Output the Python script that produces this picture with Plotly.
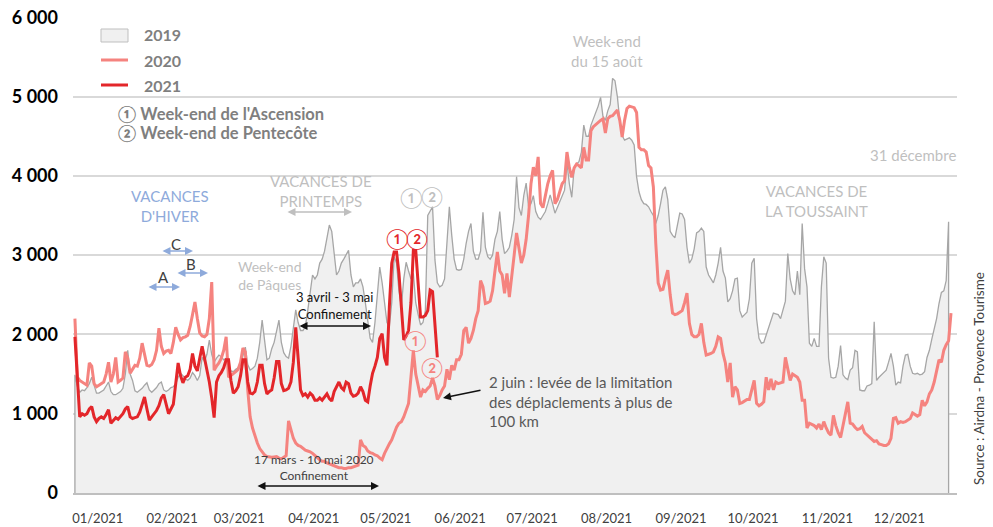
import plotly.graph_objects as go

# x axis: day of year, labels are months of 2021
month_labels = ["01/2021", "02/2021", "03/2021", "04/2021", "05/2021", "06/2021",
                "07/2021", "08/2021", "09/2021", "10/2021", "11/2021", "12/2021"]
month_start = [0, 31, 59, 90, 120, 151, 181, 212, 243, 273, 304, 334]

# daily values, grouped by month
v2019 = [
    1490, 1350, 1270, 1300, 1290, 1330, 1380, 1460, 1350, 1260, 1260, 1280, 1300, 1350, 1400, 1280,
    1240, 1240, 1260, 1280, 1320, 1500, 1800, 1500, 1420, 1290, 1270, 1290, 1320, 1360, 1390,
    1300, 1270, 1300, 1330, 1380, 1400, 1300, 1280, 1300, 1330, 1340, 1380, 1460, 1510, 1480, 1440,
    1420, 1450, 1520, 1480, 1420, 1480, 1710, 1660, 1750, 1930, 1750, 1650,
    1700, 1740, 1720, 1680, 1700, 1560, 1540, 1530, 1560, 1580, 1620, 1720, 1840, 1620, 1550, 1570,
    1600, 1700, 1900, 2180, 1900, 1680, 1700, 1820, 1900, 2050, 2180, 1900, 1770, 1720, 1700,
    1850, 2050, 2310, 2150, 2050, 2050, 2100, 2300, 2550, 2750, 2700, 2750, 2900, 2950, 3050, 3200,
    3380, 3300, 3000, 2750, 2800, 2900, 2950, 3000, 3060, 2750, 2600, 2650, 2650, 2700,
    2600, 2400, 2200, 1950, 1900, 2150, 2500, 2850, 2650, 2400, 2150, 2100, 2400, 2980, 2900, 2550,
    2350, 2700, 2910, 2800, 2700, 2770, 2400, 2250, 2120, 2150, 2300, 3500, 3550, 3610, 2940,
    2650, 2600, 2620, 2700, 3200, 3610, 3250, 2950, 2820, 2810, 2820, 2950, 3150, 3300, 3400, 3050,
    2950, 2950, 3050, 3540, 3100, 2980, 2950, 3000, 3200, 3300, 3550, 3200, 3020, 3050,
    3100, 3250, 3450, 3990, 3600, 3500, 3750, 3910, 3610, 3650, 3750, 3550, 3480, 3450, 3500, 3550,
    3650, 3760, 3650, 3530, 3600, 3680, 3750, 3820, 4160, 3900, 3730, 4100, 4150, 4180, 4300,
    4640, 4500, 4500, 4640, 4720, 4800, 4880, 4990, 4750, 4700, 4820, 4900, 5230, 5200, 5000, 4700,
    4510, 4450, 4470, 4480, 4450, 4390, 3990, 3800, 3700, 3650, 3640, 3610, 3550, 3500, 3400,
    3500, 3650, 3820, 3860, 3700, 3300, 3250, 3220, 3400, 3530, 3520, 3450, 3100, 2900, 2950, 3080,
    3280, 3300, 3340, 3300, 2850, 2750, 2700, 2650, 2750, 2900, 3100, 2800, 2710, 2410,
    2450, 2550, 2700, 2710, 2300, 2220, 2250, 2280, 2450, 2900, 2960, 2200, 1950, 1890, 1900, 2000,
    2090, 2200, 2270, 2260, 2250, 2200, 2300, 2420, 3020, 2700, 2550, 2500, 2800, 2500, 3400,
    2830, 2600, 1890, 1850, 1950, 1850, 1850, 2600, 2980, 2900, 1700, 1460, 1450, 1460, 1600, 1860,
    1490, 1450, 1430, 1550, 1580, 1800, 1780, 1300, 1290, 1290, 1350, 1360, 1380, 2160,
    1420, 1460, 1490, 1520, 1550, 1650, 1760, 1600, 1360, 1400, 1390, 1600, 1740, 1750, 1600, 1510,
    1500, 1510, 1490, 1500, 1530, 1710, 1800, 1940, 2080, 2200, 2390, 2530, 2550, 2680, 3420,
]

v2020 = [
    2200, 1460, 1420, 1400, 1380, 1360, 1640, 1600, 1380, 1340, 1360, 1380, 1400, 1500, 1650, 1400,
    1500, 1710, 1400, 1420, 1450, 1780, 1700, 1510, 1560, 1610, 1600, 1700, 1890, 1750, 1610,
    1600, 1620, 1680, 1800, 2080, 1850, 1760, 1790, 1800, 1760, 1900, 2090, 2000, 1930, 1960, 1970,
    1990, 2100, 2250, 2410, 2200, 2020, 1980, 1970, 2000, 2200, 2660, 1550,
    1600, 1640, 1700, 1800, 1970, 1460, 1480, 1500, 1530, 1560, 1650, 1830, 1780, 1300, 960, 820,
    710, 630, 560, 520, 480, 460, 455, 450, 455, 460, 440, 430, 450, 470, 910,
    780, 690, 630, 600, 590, 560, 540, 530, 520, 500, 470, 450, 420, 400, 400, 380,
    370, 360, 350, 330, 320, 320, 310, 310, 320, 320, 330, 340, 350, 670,
    600, 580, 530, 510, 500, 480, 470, 440, 420, 500, 570, 620, 670, 760, 830, 880,
    900, 960, 1050, 1130, 1460, 1800, 1500, 1340, 1210, 1300, 1280, 1320, 1350, 1450, 1350,
    1180, 1230, 1300, 1350, 1560, 1430, 1610, 1550, 1680, 1680, 1750, 2050, 2090, 1890, 1950, 2050,
    2200, 2300, 2680, 2600, 2390, 2400, 2420, 2550, 2800, 3040, 2800, 2750, 2520, 2770,
    2470, 2700, 3000, 3280, 3100, 2900, 3000, 3200, 3500, 3900, 4110, 4000, 4240, 3650, 3600, 3750,
    3900, 4000, 4070, 3650, 3700, 3800, 3900, 3940, 4300, 4100, 3980, 4100, 4150, 4130, 4100,
    4360, 4200, 4200, 4570, 4620, 4650, 4680, 4700, 4720, 4540, 4720, 4750, 4760, 4800, 4830, 4700,
    4490, 4700, 4850, 4880, 4870, 4860, 4800, 4360, 4330, 4330, 4300, 4130, 4100, 3860, 3150,
    2650, 2560, 2570, 2700, 2810, 2500, 2270, 2250, 2260, 2280, 2300, 2400, 2520, 2140, 2000, 1970,
    1970, 2000, 2140, 1900, 1740, 1750, 1760, 1780, 1850, 1970, 1950, 1760, 1640, 1400,
    1640, 1210, 1340, 1300, 1130, 1140, 1160, 1180, 1180, 1300, 1420, 1130, 1100, 1120, 1150, 1460,
    1300, 1440, 1300, 1400, 1380, 1390, 1400, 1710, 1560, 1420, 1500, 1480, 1460, 1400, 1170,
    1170, 820, 880, 870, 850, 820, 870, 800, 900, 820, 760, 730, 980, 850, 760, 700,
    850, 1000, 1150, 880, 870, 830, 800, 810, 840, 760, 730, 700, 680, 650,
    660, 620, 610, 600, 600, 620, 690, 940, 950, 880, 900, 890, 900, 920, 940, 1010,
    990, 970, 990, 1170, 1100, 1150, 1250, 1300, 1400, 1560, 1680, 1650, 1800, 1870, 1920, 2270,
]

v2021 = [
    1970, 1400, 960, 1000, 980, 1000, 1060, 1090, 960, 900, 940, 960, 940, 990, 1050, 880,
    920, 950, 930, 960, 1000, 1060, 1090, 960, 940, 950, 960, 1020, 1120, 1210, 1060,
    920, 960, 1000, 1040, 1100, 1200, 1240, 1100, 1000, 1060, 1120, 1380, 1640, 1480, 1390, 1460,
    1480, 1560, 1760, 1600, 1540, 1700, 1850, 1700, 1550, 1400, 1200, 950,
    1400, 1480, 1520, 1580, 1680, 1680, 1420, 1260, 1290, 1340, 1480, 1680, 1680, 1400, 1260, 1250,
    1280, 1400, 1610, 1610, 1380, 1250, 1280, 1300, 1450, 1660, 1660, 1380, 1290, 1300, 1320,
    1400, 1650, 2090, 1700, 1300, 1230, 1250, 1210, 1260, 1230, 1170, 1170, 1200, 1170, 1210, 1250,
    1190, 1160, 1280, 1350, 1400, 1330, 1300, 1400, 1380, 1260, 1220, 1230, 1260, 1340,
    1280, 1170, 1150, 1350, 1510, 1600, 1710, 1950, 2010, 1710, 1610, 2350, 2900, 3040, 3040, 2770,
    2300, 1930, 1980, 2050, 2400, 3060, 3060, 2640, 2220, 2220, 2240, 2300, 2560, 2540, 2180,
    1710,
]

series_names = ["2019", "2020", "2021"]

GREY = "#bfbfbf"
BLUE = "#8eaadb"
RED = "#e3262a"
SALMON = "#f5837f"

d19 = list(range(len(v2019)))
d20 = list(range(len(v2020)))
d21 = list(range(len(v2021)))

fig = go.Figure()
# 2019 as a closed grey area
fig.add_trace(go.Scatter(x=[d19[0]] + d19 + [d19[-1]], y=[0] + v2019 + [0],
                         mode="lines", fill="toself", fillcolor="#f0f0f0",
                         line=dict(color="#a6a6a6", width=1.3), name=series_names[0]))
fig.add_trace(go.Scatter(x=d20, y=v2020, mode="lines",
                         line=dict(color=SALMON, width=3), name=series_names[1]))
fig.add_trace(go.Scatter(x=d21, y=v2021, mode="lines",
                         line=dict(color=RED, width=3), name=series_names[2]))

# plot area as seen on screen: x 73..957, y 17..493
# the page body adds an 8px margin around the figure
L, R, T, B = 73, 957, 17, 493
PAGE = 8


def px(x, y):
    return (x - L) / (R - L), (B - y) / (B - T)


def label(x, y, text, size=15, color=GREY, anchor="center", bold=False, angle=0):
    xx, yy = px(x, y)
    fig.add_annotation(x=xx, y=yy, xref="paper", yref="paper", text=text, showarrow=False,
                       xanchor=anchor, yanchor="middle", align=anchor if anchor != "center" else "center",
                       textangle=angle,
                       font=dict(size=size, color=color, weight="bold" if bold else "normal"))


def darrow(x0, x1, y, color):
    xx, yy = px(x1, y)
    fig.add_annotation(x=xx, y=yy, xref="paper", yref="paper", text="", showarrow=True,
                       ax=x0 - x1, ay=0, arrowhead=2, arrowsize=1, arrowwidth=1.6,
                       arrowcolor=color, arrowside="end+start", standoff=0, startstandoff=0)


# legend drawn by hand (box for the 2019 area, strokes for the lines)
x0, y0 = px(101, 29)
x1, y1 = px(128, 42)
fig.add_shape(type="rect", xref="paper", yref="paper", x0=x0, x1=x1, y0=y0, y1=y1,
              fillcolor="#f0f0f0", line=dict(color=GREY, width=1))
for ypix, col in [(60, SALMON), (85, RED)]:
    a, b = px(101, ypix)
    c, _ = px(128, ypix)
    fig.add_shape(type="line", xref="paper", yref="paper", x0=a, x1=c, y0=b, y1=b,
                  line=dict(color=col, width=3))
for ypix, name in zip([35, 60, 85], series_names):
    label(142, ypix, name, size=16, color="#7f7f7f", anchor="left", bold=True)

label(116, 114, "① Week-end de l'Ascension", size=16.5, color="#7f7f7f", anchor="left", bold=True)
label(116, 133, "② Week-end de Pentecôte", size=16.5, color="#7f7f7f", anchor="left", bold=True)

label(170, 206, "VACANCES<br>D'HIVER", size=15, color=BLUE)
darrow(161, 193, 251, BLUE)
darrow(176, 208, 273, BLUE)
darrow(147, 180, 287, BLUE)
label(176, 244, "C", size=15, color="#404040")
label(191, 264, "B", size=15, color="#404040")
label(163, 277, "A", size=15, color="#404040")

label(321, 191, "VACANCES DE<br>PRINTEMPS", size=15)
darrow(286, 352, 212, GREY)
label(270, 275, "Week-end<br>de Pâques", size=14)

label(334, 305, "3 avril - 3 mai<br>Confinement", size=13, color="#111111")
darrow(298, 371, 326, "#111111")

label(314, 467, "17 mars - 10 mai 2020<br>Confinement", size=12, color="#404040")
darrow(256, 379, 486, "#111111")

label(487, 401, "2 juin : levée de la limitation<br>des déplaclements à plus de<br>100 km",
      size=15, color="#595959", anchor="left")
hx, hy = px(443, 398)
fig.add_annotation(x=hx, y=hy, xref="paper", yref="paper", text="", showarrow=True,
                   ax=39, ay=-8, arrowhead=2, arrowsize=1, arrowwidth=1.6,
                   arrowcolor="#111111", standoff=0)

label(397, 238, "①", size=20, color=RED)
label(417, 238, "②", size=20, color=RED)
label(411, 197, "①", size=20, color=GREY)
label(432, 196, "②", size=20, color=GREY)
label(415, 340, "①", size=20, color=SALMON)
label(432, 367, "②", size=20, color=SALMON)

label(607, 51, "Week-end<br>du 15 août", size=15)
label(958, 155, "31 décembre", size=15, anchor="right")
label(816, 201, "VACANCES DE<br>LA TOUSSAINT", size=15)

label(979, 378, "Source : Airdna - Provence Tourisme", size=13.5, color="#404040", angle=-90)

fig.update_layout(
    width=993, height=527,
    margin=dict(l=L - PAGE, r=993 - R + PAGE, t=T - PAGE, b=527 - B + PAGE),
    plot_bgcolor="white", paper_bgcolor="white",
    separators=", ",
    font=dict(family="Lato, 'Noto Sans', 'DejaVu Sans', sans-serif"),
    showlegend=False,
)
fig.update_xaxes(range=[-0.8, 367.5], tickvals=[m + 9.5 for m in month_start],
                 ticktext=month_labels, showgrid=False, zeroline=False, automargin=False,
                 showline=True, linecolor=GREY, linewidth=2, ticks="",
                 tickfont=dict(size=13, color="#404040"), ticklabelstandoff=12)
fig.update_yaxes(range=[0, 6004], dtick=1000, tickformat=",d", gridcolor="#d9d9d9",
                 gridwidth=1.5, zeroline=False, ticks="", automargin=False,
                 ticklabeloverflow="allow",
                 tickfont=dict(size=18, color="black", weight="bold"), ticklabelstandoff=14)

fig.write_html("out.html")
